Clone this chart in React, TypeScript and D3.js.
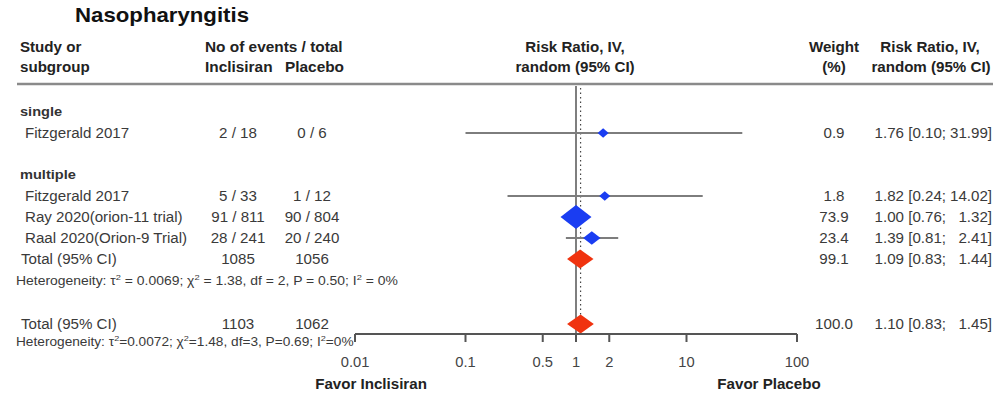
import React from "react";
import * as d3 from "d3";

// study rows
const studyNames = ["Fitzgerald 2017", "Fitzgerald 2017", "Ray 2020(orion-11 trial)", "Raal 2020(Orion-9 Trial)"];
const studyRows = [1, 4, 5, 6];
const incEvents = [2, 5, 91, 28];
const incTotal = [18, 33, 811, 241];
const plaEvents = [0, 1, 90, 20];
const plaTotal = [6, 12, 804, 240];
const rr = [1.76, 1.82, 1.0, 1.39];
const lower = [0.1, 0.24, 0.76, 0.81];
const upper = [31.99, 14.02, 1.32, 2.41];
const weight = [0.9, 1.8, 73.9, 23.4];

// pooled rows
const sumRows = [7, 10];
const sumInc = [1085, 1103];
const sumPla = [1056, 1062];
const sumRR = [1.09, 1.1];
const sumLower = [0.83, 0.83];
const sumUpper = [1.44, 1.45];
const sumWeight = [99.1, 100.0];

const groupLabels = ["single", "multiple"];
const groupRows = [0, 3];
const hetRows = [8, 11];

const ticks = [0.01, 0.1, 0.5, 1, 2, 10, 100];

const W = 1002;
const H = 395;
const SX = 1.08; // the source is a bit wider than tall

const x = d3.scaleLog().domain([0.01, 100]).range([355, 797]);
const y = d3.scaleLinear().domain([0, 11]).range([112, 343]);
const axisY = 334;

const BLUE = "#1a3df2";
const RED = "#f0330f";
const TXT = "#3a3a3a";
const font = "'Liberation Sans', Arial, Helvetica, sans-serif";

function T({ x, y, children, anchor = "start", size = 14, bold = false, fill = TXT, sx = SX }: any) {
  return (
    <text
      transform={`translate(${x},${y}) scale(${sx},1)`}
      textAnchor={anchor}
      fontSize={size}
      fontWeight={bold ? "bold" : "normal"}
      fill={fill}
    >
      {children}
    </text>
  );
}

const f2 = d3.format(".2f");

function Het({ x, y, tau, chi, df, p, spaced, sx }: any) {
  const eq = spaced ? " = " : "=";
  return (
    <text transform={`translate(${x},${y}) scale(${sx},1)`} fontSize={12} fill={TXT}>
      {"Heterogeneity: τ"}
      <tspan dy={-5} fontSize={8}>2</tspan>
      <tspan dy={5}>{`${eq}${tau}; χ`}</tspan>
      <tspan dy={-5} fontSize={8}>2</tspan>
      <tspan dy={5}>{`${eq}${chi}, df${eq}${df}, P${eq}${p}; I`}</tspan>
      <tspan dy={-5} fontSize={8}>2</tspan>
      <tspan dy={5}>{`${eq}0%`}</tspan>
    </text>
  );
}

export default function App() {
  const size = (w: number) => Math.max(11, 3.6 * Math.sqrt(w));
  return (
    <svg width={W} height={H} style={{ position: "absolute", left: 0, top: 0, background: "#fff" }} fontFamily={font}>
      <T x={75} y={22} size={19.5} bold fill="#111" sx={1.14}>Nasopharyngitis</T>

      {/* headers */}
      <T x={20} y={52} bold fill="#222">Study or</T>
      <T x={20} y={72} bold fill="#222">subgroup</T>
      <T x={205} y={52} bold fill="#222" sx={1.1}>No of events / total</T>
      <T x={205} y={72} bold fill="#222" sx={1.1}>Inclisiran</T>
      <T x={285} y={72} bold fill="#222" sx={1.1}>Placebo</T>
      <T x={575} y={52} anchor="middle" bold fill="#222">Risk Ratio, IV,</T>
      <T x={575} y={72} anchor="middle" bold fill="#222">random (95% CI)</T>
      <T x={834} y={52} anchor="middle" bold fill="#222">Weight</T>
      <T x={834} y={72} anchor="middle" bold fill="#222">(%)</T>
      <T x={930} y={52} anchor="middle" bold fill="#222">Risk Ratio, IV,</T>
      <T x={931} y={72} anchor="middle" bold fill="#222">random (95% CI)</T>
      <line x1={17} x2={993} y1={84} y2={84} stroke="#8a8a8a" strokeWidth={2.5} />

      {/* reference lines */}
      <line x1={x(1)} x2={x(1)} y1={86} y2={axisY} stroke="#555" strokeWidth={1.5} />
      <line x1={x(sumRR[1])} x2={x(sumRR[1])} y1={88} y2={axisY} stroke="#444" strokeWidth={1.2} strokeDasharray="1.5,3" />

      {groupLabels.map((g, i) => (
        <T key={g} x={20} y={y(groupRows[i]) + 4} bold size={13.5} fill="#333">{g}</T>
      ))}

      {studyNames.map((s, i) => {
        const cy = y(studyRows[i]);
        const d = size(weight[i]);
        const h = d * (weight[i] < 5 ? 0.85 : 0.78);
        const cx = x(rr[i]);
        return (
          <g key={i}>
            <T x={25} y={cy + 5}>{s}</T>
            <T x={238} y={cy + 5} anchor="middle">{`${incEvents[i]} / ${incTotal[i]}`}</T>
            <T x={312} y={cy + 5} anchor="middle">{`${plaEvents[i]} / ${plaTotal[i]}`}</T>
            <line x1={x(lower[i])} x2={x(upper[i])} y1={cy} y2={cy} stroke="#7d7d7d" strokeWidth={2} />
            <path d={`M${cx - d / 2},${cy}L${cx},${cy - h / 2}L${cx + d / 2},${cy}L${cx},${cy + h / 2}Z`} fill={BLUE} />
            <T x={834} y={cy + 5} anchor="middle">{weight[i].toFixed(1)}</T>
            <T x={946} y={cy + 5} anchor="end">{`${f2(rr[i])} [${f2(lower[i])};`}</T>
            <T x={992} y={cy + 5} anchor="end">{`${f2(upper[i])}]`}</T>
          </g>
        );
      })}

      {sumRows.map((r, i) => {
        const cy = y(r) + (i === 1 ? 2 : 0);
        const h = 19;
        return (
          <g key={r}>
            <T x={21} y={cy + 5}>Total (95% CI)</T>
            <T x={238} y={cy + 5} anchor="middle">{sumInc[i]}</T>
            <T x={312} y={cy + 5} anchor="middle">{sumPla[i]}</T>
            <path
              d={`M${x(sumLower[i])},${cy}L${x(sumRR[i])},${cy - h / 2}L${x(sumUpper[i])},${cy}L${x(sumRR[i])},${cy + h / 2}Z`}
              fill={RED}
            />
            <T x={834} y={cy + 5} anchor="middle">{sumWeight[i].toFixed(1)}</T>
            <T x={946} y={cy + 5} anchor="end">{`${f2(sumRR[i])} [${f2(sumLower[i])};`}</T>
            <T x={992} y={cy + 5} anchor="end">{`${f2(sumUpper[i])}]`}</T>
          </g>
        );
      })}

      <Het x={16} y={y(hetRows[0]) + 5} tau="0.0069" chi="1.38" df="2" p="0.50" spaced sx={1.16} />
      <Het x={16} y={y(hetRows[1]) + 3} tau="0.0072" chi="1.48" df="3" p="0.69" sx={1.14} />

      {/* x axis */}
      <line x1={x(0.01)} x2={x(100)} y1={axisY} y2={axisY} stroke="#555" strokeWidth={2} />
      {ticks.map((t) => (
        <g key={t}>
          <line x1={x(t)} x2={x(t)} y1={axisY} y2={axisY + 8} stroke="#555" strokeWidth={2} />
          <T x={x(t)} y={367} anchor="middle" size={14} fill="#444" sx={1.05}>{String(t)}</T>
        </g>
      ))}
      <T x={371} y={389} anchor="middle" bold size={14} fill="#222">Favor Inclisiran</T>
      <T x={769} y={389} anchor="middle" bold size={14} fill="#222">Favor Placebo</T>
    </svg>
  );
}
